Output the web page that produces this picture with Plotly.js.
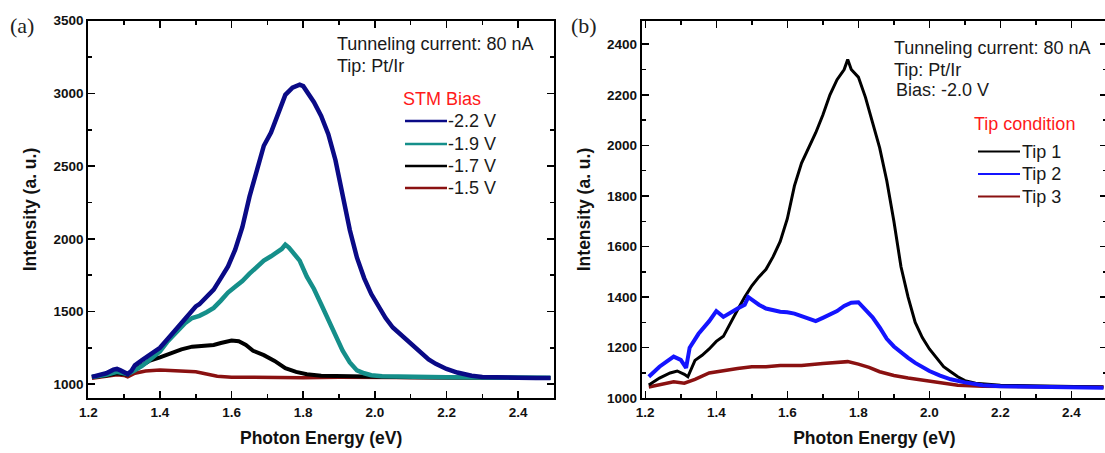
<!DOCTYPE html>
<html>
<head>
<meta charset="utf-8">
<script src="https://cdn.plot.ly/plotly-3.0.1.min.js"></script>
<style>
html,body{margin:0;padding:0;overflow:hidden;background:#fff;}
#chart{width:1110px;height:453px;}
</style>
</head>
<body>
<div id="chart"></div>
<script>
// ---------- Panel (a): STM bias series ----------
const biasLabels = ["-2.2 V", "-1.9 V", "-1.7 V", "-1.5 V"];
const biasColors = ["#0a0a86", "#158f8a", "#000000", "#8a1111"];

const energyBias22 = [1.21,1.23,1.25,1.27,1.28,1.29,1.30,1.31,1.32,1.33,1.35,1.37,1.40,1.43,1.47,1.50,1.51,1.53,1.55,1.57,1.59,1.61,1.63,1.65,1.67,1.69,1.71,1.73,1.75,1.77,1.79,1.80,1.81,1.83,1.85,1.87,1.89,1.91,1.93,1.95,1.97,1.99,2.01,2.03,2.05,2.07,2.09,2.11,2.13,2.15,2.17,2.20,2.23,2.27,2.30,2.35,2.40,2.45,2.49];
const intensityBias22 = [1050,1060,1075,1100,1105,1095,1085,1070,1090,1130,1165,1200,1250,1335,1455,1535,1550,1595,1650,1730,1810,1925,2080,2290,2480,2640,2730,2870,2990,3040,3060,3050,3010,2940,2845,2720,2540,2300,2060,1870,1730,1620,1530,1455,1390,1345,1300,1255,1210,1170,1140,1105,1080,1058,1050,1045,1045,1043,1042];

const energyBias19 = [1.21,1.25,1.28,1.31,1.33,1.35,1.37,1.40,1.42,1.45,1.47,1.49,1.51,1.53,1.55,1.57,1.59,1.61,1.63,1.65,1.67,1.69,1.71,1.73,1.74,1.75,1.76,1.77,1.79,1.81,1.83,1.85,1.87,1.89,1.91,1.93,1.95,1.97,1.99,2.02,2.10,2.20,2.30,2.40,2.49];
const intensityBias19 = [1050,1065,1085,1070,1095,1125,1165,1225,1290,1370,1420,1455,1470,1495,1525,1575,1630,1670,1710,1760,1810,1850,1880,1910,1930,1960,1940,1910,1850,1740,1655,1550,1440,1330,1230,1150,1095,1075,1062,1055,1050,1048,1046,1045,1044];

const energyBias17 = [1.21,1.25,1.28,1.31,1.33,1.35,1.37,1.40,1.43,1.46,1.49,1.52,1.55,1.57,1.60,1.62,1.64,1.66,1.69,1.72,1.75,1.78,1.81,1.85,1.90,2.00,2.10,2.20,2.30,2.40,2.49];
const intensityBias17 = [1050,1060,1075,1065,1100,1130,1160,1185,1215,1240,1258,1262,1270,1283,1300,1295,1270,1230,1200,1160,1110,1085,1068,1058,1055,1050,1048,1046,1045,1045,1043];

const energyBias15 = [1.21,1.25,1.28,1.30,1.31,1.33,1.36,1.40,1.44,1.47,1.50,1.53,1.56,1.60,1.70,1.80,1.90,2.00,2.10,2.20,2.30,2.40,2.49];
const intensityBias15 = [1040,1055,1065,1060,1050,1075,1090,1098,1095,1092,1085,1070,1055,1048,1045,1045,1048,1048,1045,1045,1045,1043,1042];

// ---------- Panel (b): tip condition series ----------
const tipLabels = ["Tip 1", "Tip 2", "Tip 3"];
const tipColors = ["#000000", "#1414ff", "#8a1111"];

const energyTip1 = [1.21,1.24,1.27,1.29,1.31,1.32,1.34,1.36,1.38,1.40,1.42,1.44,1.46,1.48,1.50,1.52,1.54,1.56,1.58,1.60,1.62,1.64,1.66,1.68,1.70,1.72,1.74,1.76,1.77,1.78,1.80,1.82,1.84,1.86,1.88,1.90,1.92,1.94,1.96,1.98,2.00,2.02,2.04,2.06,2.08,2.10,2.13,2.20,2.30,2.40,2.49];
const intensityTip1 = [1053,1080,1100,1108,1095,1085,1150,1170,1195,1225,1245,1300,1350,1400,1445,1480,1510,1560,1620,1710,1840,1930,1990,2050,2120,2200,2260,2300,2340,2300,2270,2190,2090,1990,1860,1700,1520,1400,1300,1240,1195,1160,1125,1105,1085,1070,1060,1052,1050,1048,1045];

const energyTip2 = [1.21,1.24,1.26,1.28,1.30,1.315,1.325,1.35,1.38,1.40,1.42,1.44,1.46,1.48,1.49,1.50,1.52,1.54,1.56,1.58,1.60,1.62,1.64,1.66,1.68,1.70,1.72,1.74,1.76,1.78,1.80,1.82,1.84,1.86,1.88,1.90,1.92,1.94,1.96,1.98,2.00,2.03,2.06,2.10,2.15,2.20,2.30,2.40,2.49];
const intensityTip2 = [1085,1125,1145,1165,1152,1120,1200,1255,1305,1345,1322,1340,1355,1370,1400,1390,1370,1355,1348,1342,1340,1335,1325,1315,1305,1318,1330,1345,1365,1378,1380,1352,1320,1280,1235,1205,1180,1160,1140,1122,1108,1090,1075,1063,1052,1048,1045,1043,1042];

const energyTip3 = [1.21,1.25,1.28,1.31,1.34,1.38,1.42,1.46,1.50,1.54,1.58,1.64,1.70,1.74,1.77,1.80,1.83,1.86,1.90,1.94,1.98,2.03,2.08,2.15,2.25,2.35,2.49];
const intensityTip3 = [1045,1058,1065,1060,1075,1100,1110,1118,1125,1125,1130,1130,1138,1143,1145,1135,1122,1105,1090,1080,1072,1060,1052,1048,1046,1045,1045];

// axis tick values
const xTicks = [1.2,1.4,1.6,1.8,2.0,2.2,2.4];
const xTickText = ["1.2","1.4","1.6","1.8","2.0","2.2","2.4"];
const yTicksA = [1000,1500,2000,2500,3000,3500];
const yTicksB = [1000,1200,1400,1600,1800,2000,2200,2400];

// ---------- layout geometry ----------
const W = 1110, H = 453;
const px = v => v / W;
const py = v => 1 - v / H;

const biasSeries = [
  [energyBias15, intensityBias15, 3, 3.5],
  [energyBias17, intensityBias17, 2, 4],
  [energyBias19, intensityBias19, 1, 4.5],
  [energyBias22, intensityBias22, 0, 4.5]
];
const tipSeries = [
  [energyTip3, intensityTip3, 2, 3.5],
  [energyTip1, intensityTip1, 0, 3],
  [energyTip2, intensityTip2, 1, 4]
];

const traces = [];
biasSeries.forEach(s => traces.push({
  x: s[0], y: s[1], type: 'scatter', mode: 'lines', name: biasLabels[s[2]],
  line: {color: biasColors[s[2]], width: s[3]}, xaxis: 'x', yaxis: 'y', showlegend: false
}));
tipSeries.forEach(s => traces.push({
  x: s[0], y: s[1], type: 'scatter', mode: 'lines', name: tipLabels[s[2]],
  line: {color: tipColors[s[2]], width: s[3]}, xaxis: 'x2', yaxis: 'y2', showlegend: false
}));

const tickFont = {family: 'Liberation Sans, Arial, sans-serif', size: 13.5, color: '#111', weight: 'bold'};
const titleFont = {family: 'Liberation Sans, Arial, sans-serif', size: 17.5, color: '#111', weight: 'bold'};
const baseAxis = {
  showline: true, linecolor: '#000', linewidth: 2, mirror: 'ticks',
  ticks: 'inside', ticklen: 7, tickwidth: 1.5, tickcolor: '#000',
  showgrid: false, zeroline: false, tickfont: tickFont
};
const yDomain = [py(398.3), py(20.7)];

const layout = {
  width: W, height: H,
  margin: {l: 0, r: 0, t: 0, b: 0},
  paper_bgcolor: '#fff', plot_bgcolor: '#fff',
  showlegend: false,
  xaxis: Object.assign({}, baseAxis, {
    domain: [px(88.3), px(554)], range: [1.2, 2.5], anchor: 'y',
    tickvals: xTicks, ticktext: xTickText,
    minor: {dtick: 0.1, tick0: 1.2, ticks: 'inside', ticklen: 4, tickwidth: 1.5, tickcolor: '#000'},
    title: {text: 'Photon Energy (eV)', font: titleFont, standoff: 13}
  }),
  yaxis: Object.assign({}, baseAxis, {
    domain: yDomain, range: [903, 3500], anchor: 'x',
    tickvals: yTicksA,
    minor: {dtick: 250, tick0: 1000, ticks: 'inside', ticklen: 4, tickwidth: 1.5, tickcolor: '#000'},
    title: {text: 'Intensity (a. u.)', font: titleFont, standoff: 12}
  }),
  xaxis2: Object.assign({}, baseAxis, {
    domain: [px(641.7), px(1107)], range: [1.19, 2.5], anchor: 'y2',
    tickvals: xTicks, ticktext: xTickText,
    minor: {dtick: 0.1, tick0: 1.2, ticks: 'inside', ticklen: 4, tickwidth: 1.5, tickcolor: '#000'},
    title: {text: 'Photon Energy (eV)', font: titleFont, standoff: 13}
  }),
  yaxis2: Object.assign({}, baseAxis, {
    domain: yDomain, range: [1000, 2493], anchor: 'x2',
    tickvals: yTicksB,
    minor: {dtick: 100, tick0: 1000, ticks: 'inside', ticklen: 4, tickwidth: 1.5, tickcolor: '#000'},
    title: {text: 'Intensity (a. u.)', font: titleFont, standoff: 12}
  }),
  shapes: [],
  annotations: []
};

const noteFont = {family: 'Liberation Sans, Arial, sans-serif', size: 18, color: '#1a1a1a'};
function note(text, x, y, color, size, family) {
  layout.annotations.push({
    text: text, xref: 'paper', yref: 'paper', x: px(x), y: py(y),
    xanchor: 'left', yanchor: 'middle', showarrow: false,
    font: {family: family || noteFont.family, size: size || noteFont.size, color: color || noteFont.color}
  });
}
function legendLine(x0, x1, y, color, w) {
  layout.shapes.push({type: 'line', xref: 'paper', yref: 'paper',
    x0: px(x0), x1: px(x1), y0: py(y), y1: py(y), line: {color: color, width: w}});
}

// panel labels
note('(a)', 8, 26, '#222', 22, 'Liberation Serif, Times New Roman, serif');
note('(b)', 569, 26, '#222', 22, 'Liberation Serif, Times New Roman, serif');

// panel (a) notes + legend
note('Tunneling current: 80 nA', 335, 44);
note('Tip: Pt/Ir', 335, 66);
note('STM Bias', 401, 99, '#ff1a1a');
[121, 144, 166, 188].forEach((yy, i) => {
  legendLine(405, 447, yy, biasColors[i], 2.5);
  note(biasLabels[i], 446, yy);
});

// panel (b) notes + legend
note('Tunneling current: 80 nA', 892, 48);
note('Tip: Pt/Ir', 892, 70);
note('Bias: -2.0 V', 894, 90);
note('Tip condition', 972, 124, '#ff1a1a');
[151.5, 174, 196.5].forEach((yy, i) => {
  legendLine(978, 1020, yy, tipColors[i], 2);
  note(tipLabels[i], 1020, yy);
});

Plotly.newPlot('chart', traces, layout, {displayModeBar: false, staticPlot: true});
</script>
</body>
</html>
